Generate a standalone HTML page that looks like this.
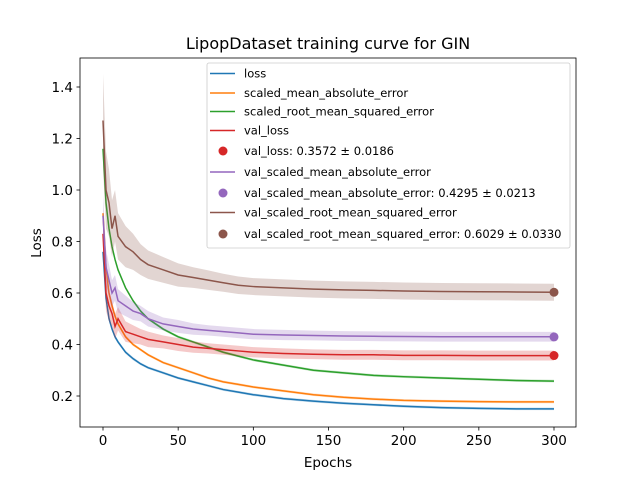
<!DOCTYPE html>
<html><head><meta charset="utf-8"><style>
body{margin:0;background:#fff}
svg text{font-family:"DejaVu Sans","Liberation Sans",sans-serif;fill:#000}
</style></head><body>
<svg id="chart" width="640" height="480" xmlns="http://www.w3.org/2000/svg">
<rect width="640" height="480" fill="#fff"/>
<g id="plot"></g>
</svg>
<script>
const epochs=[0,2,4,6,8,10,15,20,25,30,40,50,60,70,80,90,100,120,140,160,180,200,225,250,275,300];
const lossVals=[0.76,0.58,0.5,0.46,0.43,0.41,0.37,0.345,0.325,0.31,0.29,0.27,0.255,0.24,0.225,0.215,0.205,0.19,0.18,0.172,0.166,0.16,0.155,0.152,0.15,0.15];
const maeVals=[0.91,0.7,0.6,0.55,0.51,0.48,0.43,0.4,0.38,0.36,0.33,0.31,0.29,0.27,0.255,0.245,0.235,0.22,0.205,0.195,0.188,0.183,0.18,0.178,0.177,0.177];
const rmseVals=[1.16,0.95,0.85,0.78,0.73,0.69,0.62,0.57,0.53,0.5,0.46,0.43,0.41,0.39,0.37,0.355,0.34,0.32,0.3,0.29,0.28,0.275,0.27,0.265,0.26,0.258];
const valLossVals=[0.83,0.6,0.55,0.52,0.47,0.5,0.45,0.44,0.43,0.42,0.41,0.4,0.39,0.385,0.38,0.375,0.37,0.365,0.362,0.36,0.36,0.358,0.358,0.357,0.357,0.357];
const valMaeVals=[0.9,0.7,0.65,0.6,0.62,0.57,0.55,0.53,0.52,0.5,0.48,0.47,0.46,0.455,0.45,0.445,0.44,0.437,0.435,0.433,0.432,0.431,0.43,0.43,0.43,0.43];
const valRmseVals=[1.27,1.0,0.95,0.85,0.9,0.82,0.78,0.76,0.73,0.71,0.69,0.67,0.66,0.65,0.64,0.63,0.625,0.62,0.615,0.612,0.61,0.608,0.606,0.605,0.604,0.603];
const trainBand=[0.02,0.012,0.01,0.008,0.008,0.007,0.006,0.006,0.005,0.005,0.005,0.005,0.005,0.005,0.005,0.005,0.005,0.005,0.005,0.005,0.005,0.005,0.005,0.005,0.005,0.005];
const valBand=[0.08,0.07,0.06,0.05,0.05,0.045,0.04,0.035,0.03,0.03,0.025,0.025,0.022,0.02,0.02,0.02,0.02,0.02,0.019,0.019,0.019,0.019,0.019,0.019,0.019,0.019];
const rmseBand=[0.18,0.15,0.13,0.11,0.1,0.09,0.08,0.07,0.06,0.055,0.05,0.045,0.04,0.038,0.035,0.034,0.033,0.033,0.033,0.033,0.033,0.033,0.033,0.033,0.033,0.033];
const finalVals=[0.3572,0.4295,0.6029];
const xTicks=[0,50,100,150,200,250,300];
const yTicks=[0.2,0.4,0.6,0.8,1.0,1.2,1.4];

const L=80,R=576,T=58,B=427;
const X=v=>103+(v/300)*451;
const Y=v=>396-(v-0.2)/0.2*51.5;
const g=document.getElementById('plot');
const NS='http://www.w3.org/2000/svg';
function mk(tag,attrs,parent){const e=document.createElementNS(NS,tag);for(const k in attrs)e.setAttribute(k,attrs[k]);(parent||g).appendChild(e);return e;}

const series=[
 {name:'loss',vals:lossVals,band:trainBand,c:'#1f77b4'},
 {name:'scaled-mae',vals:maeVals,band:trainBand,c:'#ff7f0e'},
 {name:'scaled-rmse',vals:rmseVals,band:trainBand,c:'#2ca02c'},
 {name:'val-loss',vals:valLossVals,band:valBand,c:'#d62728'},
 {name:'val-mae',vals:valMaeVals,band:valBand,c:'#9467bd'},
 {name:'val-rmse',vals:valRmseVals,band:rmseBand,c:'#8c564b'}
];
series.forEach(s=>{
 const up=epochs.map((e,i)=>X(e)+','+Y(s.vals[i]+s.band[i]));
 const dn=epochs.map((e,i)=>X(e)+','+Y(s.vals[i]-s.band[i])).reverse();
 const b=mk('polygon',{points:up.concat(dn).join(' '),fill:s.c,'fill-opacity':0.25});
 
 
 const l=mk('polyline',{points:epochs.map((e,i)=>X(e)+','+Y(s.vals[i])).join(' '),fill:'none',stroke:s.c,'stroke-width':1.5});
 
 
});
const dotColors=['#d62728','#9467bd','#8c564b'];
finalVals.forEach((v,i)=>{
 const d=mk('circle',{cx:X(300),cy:Y(v),r:4.5,fill:dotColors[i]});
 
 
});
const fr=mk('rect',{x:L,y:T,width:R-L,height:B-T,fill:'none',stroke:'#000','stroke-width':0.8});


xTicks.forEach(t=>{
 mk('line',{x1:X(t),x2:X(t),y1:B,y2:B+3.5,stroke:'#000','stroke-width':0.8});
 const tx=mk('text',{x:X(t),y:B+18,'text-anchor':'middle','font-size':13.5});
 tx.textContent=t;
 
 
});
yTicks.forEach(t=>{
 mk('line',{x1:L-3.5,x2:L,y1:Y(t),y2:Y(t),stroke:'#000','stroke-width':0.8});
 const tx=mk('text',{x:L-7,y:Y(t)+5,'text-anchor':'end','font-size':13.5});
 tx.textContent=t.toFixed(1);
 
 
});
const ti=mk('text',{x:328,y:49,'text-anchor':'middle','font-size':16});ti.textContent='LipopDataset training curve for GIN';

const xl=mk('text',{x:328,y:467,'text-anchor':'middle','font-size':13.5});xl.textContent='Epochs';

const yl=mk('text',{x:41,y:243,'text-anchor':'middle','font-size':13.5,transform:'rotate(-90 41 243)'});yl.textContent='Loss';


const lg=mk('g',{});


mk('rect',{x:207,y:63,width:363,height:185,rx:2,fill:'#fff','fill-opacity':0.8,stroke:'#ccc','stroke-width':0.8},lg);
const entries=[
 ['line','#1f77b4','loss',73.5],
 ['line','#ff7f0e','scaled_mean_absolute_error',93],
 ['line','#2ca02c','scaled_root_mean_squared_error',111.5],
 ['line','#d62728','val_loss',130.5],
 ['dot','#d62728','val_loss: 0.3572 ± 0.0186',151],
 ['line','#9467bd','val_scaled_mean_absolute_error',172],
 ['dot','#9467bd','val_scaled_mean_absolute_error: 0.4295 ± 0.0213',193],
 ['line','#8c564b','val_scaled_root_mean_squared_error',212.5],
 ['dot','#8c564b','val_scaled_root_mean_squared_error: 0.6029 ± 0.0330',234]
];
entries.forEach(e=>{
 const eg=mk('g',{},lg);
 
 
 if(e[0]==='line')mk('line',{x1:210,x2:235,y1:e[3],y2:e[3],stroke:e[1],'stroke-width':1.5},eg);
 else mk('circle',{cx:223,cy:e[3],r:4.5,fill:e[1]},eg);
 const t=mk('text',{x:244,y:e[3]+4,'font-size':11.5},eg);t.textContent=e[2];
});
</script>
</body></html>
